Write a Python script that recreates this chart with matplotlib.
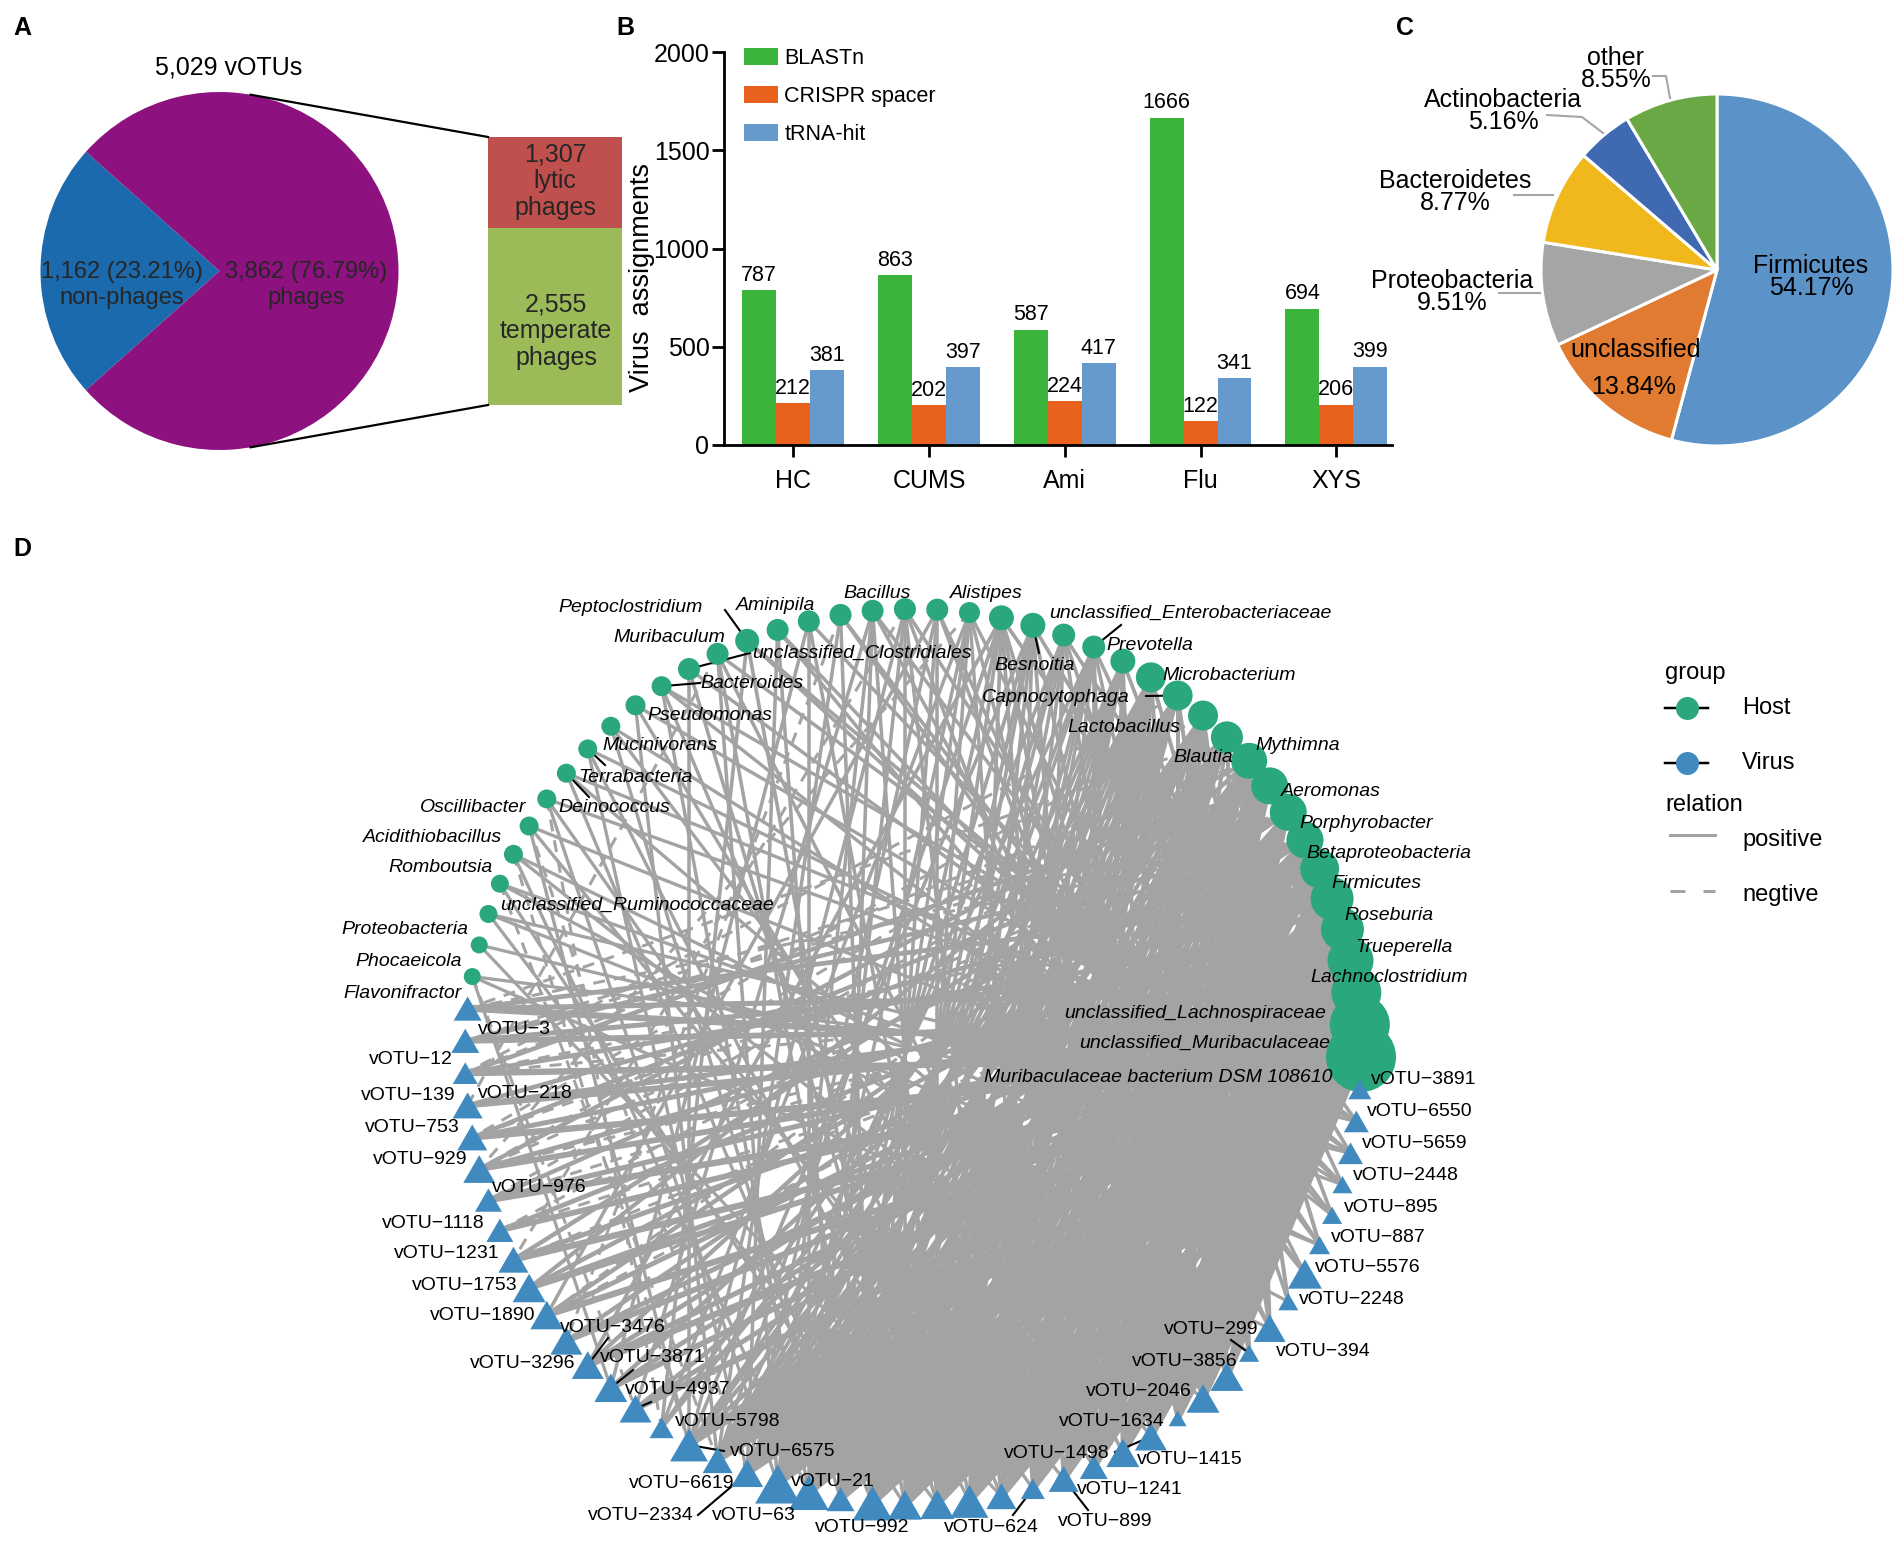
import numpy as np
import matplotlib
matplotlib.use('Agg')
import matplotlib.pyplot as plt
from matplotlib import font_manager
from matplotlib.collections import LineCollection
from matplotlib.path import Path

plt.rcParams['font.family'] = ['Liberation Sans', 'DejaVu Sans']
installed = {f.name for f in font_manager.fontManager.ttflist}
if 'Liberation Sans Narrow' in installed:
    NFAM, NSIZE, TSIZE = ['Liberation Sans Narrow', 'DejaVu Sans'], 18, 21
else:
    NFAM, NSIZE, TSIZE = ['Liberation Sans', 'DejaVu Sans'], 15.5, 18

# ---------------- data ----------------
# A: vOTU classification
votu_total = '5,029'
phage_labels = ['1,162 (23.21%)\nnon-phages', '3,862 (76.79%)\nphages']
phage_pct = [23.21, 76.79]
life_labels = ['1,307\nlytic\nphages', '2,555\ntemperate\nphages']
life_counts = [1307, 2555]

# B: host assignment methods
groups = ['HC', 'CUMS', 'Ami', 'Flu', 'XYS']
blastn = [787, 863, 587, 1666, 694]
crispr = [212, 202, 224, 122, 206]
trna = [381, 397, 417, 341, 399]

# C: host phyla
phyla = ['Firmicutes', 'unclassified', 'Proteobacteria', 'Bacteroidetes',
         'Actinobacteria', 'other']
phyla_pct = [54.17, 13.84, 9.51, 8.77, 5.16, 8.55]

# D: host-virus network (nodes in circular order, '' = unlabeled node)
host_names = ['Muribaculaceae bacterium DSM 108610', 'unclassified_Muribaculaceae',
              'unclassified_Lachnospiraceae', 'Lachnoclostridium', 'Trueperella',
              'Roseburia', 'Firmicutes', 'Betaproteobacteria', 'Porphyrobacter',
              'Aeromonas', 'Blautia', 'Mythimna', 'Lactobacillus', 'Capnocytophaga',
              'Microbacterium', 'Prevotella', 'unclassified_Enterobacteriaceae', '',
              'Besnoitia', '', 'Alistipes', '', '', 'Bacillus', '', '', 'Aminipila',
              'Peptoclostridium', 'Muribaculum', 'unclassified_Clostridiales',
              'Bacteroides', 'Pseudomonas', 'Mucinivorans', 'Terrabacteria',
              'Deinococcus', 'Oscillibacter', 'Acidithiobacillus', 'Romboutsia',
              'unclassified_Ruminococcaceae', 'Proteobacteria', 'Phocaeicola',
              'Flavonifractor']
host_size = [70, 60, 50, 46, 43, 43, 39, 37, 37, 37, 36, 32, 30, 30, 30, 25, 23, 23,
             25, 25, 21, 22, 22, 22, 22, 22, 22, 24, 22, 22, 20, 20, 19, 19, 19, 19,
             19, 19, 18, 18, 17, 17]
virus_names = ['vOTU-3', 'vOTU-12', 'vOTU-139', 'vOTU-218', 'vOTU-753', 'vOTU-929',
               'vOTU-976', 'vOTU-1118', 'vOTU-1231', 'vOTU-1753', 'vOTU-1890',
               'vOTU-3476', 'vOTU-3296', 'vOTU-3871', 'vOTU-4937', 'vOTU-5798',
               'vOTU-6575', 'vOTU-6619', 'vOTU-2334', 'vOTU-63', 'vOTU-21', '',
               'vOTU-992', '', '', '', '', 'vOTU-624', 'vOTU-899', 'vOTU-1241',
               'vOTU-1415', 'vOTU-1498', 'vOTU-1634', 'vOTU-2046', 'vOTU-3856',
               'vOTU-299', 'vOTU-394', 'vOTU-2248', 'vOTU-5576', 'vOTU-887',
               'vOTU-895', 'vOTU-2448', 'vOTU-5659', 'vOTU-6550', 'vOTU-3891']
virus_size = [28, 28, 25, 30, 30, 32, 27, 27, 30, 33, 33, 32, 32, 33, 32, 24, 38, 30,
              32, 45, 40, 28, 40, 34, 34, 38, 30, 24, 30, 28, 33, 32, 18, 33, 33, 20,
              32, 20, 34, 21, 20, 20, 25, 25, 23]
# positive links: host index -> virus indices
host_links = {
    0: [0, 2, 4, 6, 8, 10, 12, 14, 17, 18, 19, 20, 21, 22, 23, 24, 25, 26, 27,
        28, 29, 30, 31, 32, 33, 34],
    1: [1, 3, 5, 7, 9, 11, 13, 16, 17, 18, 19, 20, 21, 22, 23, 24, 25, 26, 27, 28,
        29, 30, 31, 32, 33, 34],
    2: [0, 3, 6, 9, 12, 17, 19, 20, 21, 22, 23, 24, 25, 26, 27, 28, 29, 30, 31, 32, 33,
        34],
    3: [1, 4, 8, 11, 14, 16, 17, 18, 19, 20, 21, 22, 23, 24, 25, 26, 27, 28, 30, 31, 32,
        33],
    4: [2, 5, 10, 13, 17, 18, 19, 20, 21, 22, 23, 24, 25, 26, 27, 29, 30, 31, 32, 33],
    5: [0, 7, 12, 17, 18, 19, 20, 21, 22, 23, 24, 25, 26, 27, 28, 30, 31, 32, 33, 34],
    6: [3, 9, 14, 16, 17, 18, 19, 20, 21, 22, 23, 24, 25, 26, 29, 30, 31, 32, 33],
    7: [1, 6, 11, 17, 18, 19, 20, 21, 22, 23, 24, 25, 26, 27, 28, 29, 32],
    8: [4, 10, 17, 18, 19, 20, 21, 22, 23, 24, 25, 26, 27, 28, 29, 30, 31],
    9: [2, 8, 13, 16, 17, 18, 19, 20, 21, 22, 23, 24, 25, 26, 27, 29, 30],
    10: [5, 12, 17, 18, 19, 20, 21, 22, 23, 24, 25, 26, 27, 28, 31, 33, 36],
    11: [9, 15, 16, 17, 18, 19, 20, 21, 22, 23, 24, 25, 26, 30, 35],
    12: [16, 17, 18, 19, 20, 21, 22, 24, 26, 27, 28, 29, 31, 34, 37],
    13: [15, 17, 18, 19, 20, 21, 22, 23, 24, 25, 32, 36],
    14: [17, 18, 19, 20, 21, 22, 23, 24, 25, 26, 27, 28, 30, 33, 39],
    15: [18, 19, 20, 21, 22, 23, 24, 25, 29, 30, 31, 40],
    16: [17, 19, 20, 22, 23, 24, 26, 29, 30, 35, 41],
    17: [18, 20, 21, 23, 25, 27, 32, 37, 44],
    18: [16, 19, 21, 22, 24, 26, 29, 33, 42],
    19: [12, 17, 20, 22, 25, 28, 31, 34, 43],
    20: [15, 19, 21, 23, 27, 32, 38],
    21: [10, 18, 22, 24, 34, 36],
    22: [16, 20, 23, 26, 33, 39],
    23: [14, 19, 21, 24, 36, 40],
    24: [17, 22, 38, 39],
    25: [13, 20, 25, 41],
    26: [18, 21, 38, 40],
    27: [15, 23, 41, 42],
    28: [19, 22, 30, 43],
    29: [16, 24, 42],
    30: [20, 26, 40, 44],
    31: [17, 29, 43],
    32: [21, 31, 41],
    33: [18, 25, 43],
    34: [22, 35, 44],
    35: [19, 27, 44],
    36: [16, 28, 42],
    37: [20, 33, 39],
    38: [23, 37, 41],
    39: [24, 39, 43],
    40: [26, 42],
    41: [13, 36, 44],
}
# negative links (host, virus)
neg_links = [(7, 0), (8, 1), (9, 1), (10, 2), (11, 0), (6, 3), (5, 2), (4, 6), (3, 7),
             (2, 2), (8, 5), (9, 8), (12, 4), (6, 9), (10, 6), (11, 5), (7, 4), (13, 2),
             (9, 10), (8, 7), (5, 10), (4, 8), (3, 5), (41, 14), (37, 16), (36, 18),
             (35, 15), (38, 17), (20, 5), (22, 8), (24, 11), (28, 3)]

# ---------------- layout (pixels of the 1904x1542 canvas) ----------------
W, H = 1904, 1542
PT = 0.72  # points per pixel at dpi 100
NET_C, NET_R = (913, 1057), 448

host_label_pos = {
    'Muribaculaceae bacterium DSM 108610': (1333, 1077, 'right'),
    'unclassified_Muribaculaceae': (1330, 1043, 'right'),
    'unclassified_Lachnospiraceae': (1326, 1013, 'right'),
    'Lachnoclostridium': (1310, 978, 'left'),
    'Trueperella': (1355, 947, 'left'),
    'Roseburia': (1344, 915, 'left'),
    'Firmicutes': (1331, 883, 'left'),
    'Betaproteobacteria': (1306, 853, 'left'),
    'Porphyrobacter': (1299, 823, 'left'),
    'Aeromonas': (1281, 792, 'left'),
    'Mythimna': (1255, 745, 'left'),
    'Blautia': (1233, 757, 'right'),
    'Lactobacillus': (1180, 727, 'right'),
    'Capnocytophaga': (1130, 697, 'right'),
    'Microbacterium': (1162, 676, 'left'),
    'Prevotella': (1106, 645, 'left'),
    'unclassified_Enterobacteriaceae': (1049, 613, 'left'),
    'Besnoitia': (1035, 666, 'center'),
    'Alistipes': (986, 593, 'center'),
    'Bacillus': (877, 593, 'center'),
    'Aminipila': (776, 605, 'center'),
    'Peptoclostridium': (631, 607, 'center'),
    'Muribaculum': (669, 638, 'center'),
    'unclassified_Clostridiales': (752, 653, 'left'),
    'Bacteroides': (700, 684, 'left'),
    'Pseudomonas': (647, 715, 'left'),
    'Mucinivorans': (602, 745, 'left'),
    'Terrabacteria': (578, 777, 'left'),
    'Deinococcus': (558, 807, 'left'),
    'Oscillibacter': (526, 808, 'right'),
    'Acidithiobacillus': (502, 838, 'right'),
    'Romboutsia': (493, 868, 'right'),
    'unclassified_Ruminococcaceae': (500, 905, 'left'),
    'Proteobacteria': (468, 930, 'right'),
    'Phocaeicola': (462, 962, 'right'),
    'Flavonifractor': (462, 993, 'right'),
}
virus_label_pos = {
    'vOTU-3': (478, 1030, 'left'), 'vOTU-12': (453, 1060, 'right'),
    'vOTU-139': (456, 1095, 'right'), 'vOTU-218': (478, 1093, 'left'),
    'vOTU-753': (460, 1127, 'right'), 'vOTU-929': (467, 1160, 'right'),
    'vOTU-976': (492, 1188, 'left'), 'vOTU-1118': (485, 1223, 'right'),
    'vOTU-1231': (500, 1253, 'right'), 'vOTU-1753': (518, 1285, 'right'),
    'vOTU-1890': (535, 1315, 'right'), 'vOTU-3476': (560, 1328, 'left'),
    'vOTU-3296': (575, 1363, 'right'), 'vOTU-3871': (600, 1358, 'left'),
    'vOTU-4937': (625, 1390, 'left'), 'vOTU-5798': (675, 1422, 'left'),
    'vOTU-6575': (730, 1452, 'left'), 'vOTU-6619': (734, 1483, 'right'),
    'vOTU-2334': (694, 1515, 'right'), 'vOTU-63': (712, 1515, 'left'),
    'vOTU-21': (791, 1482, 'left'), 'vOTU-992': (862, 1528, 'center'),
    'vOTU-624': (991, 1528, 'center'), 'vOTU-899': (1105, 1522, 'center'),
    'vOTU-1241': (1077, 1490, 'left'), 'vOTU-1415': (1137, 1460, 'left'),
    'vOTU-1498': (1110, 1453, 'right'), 'vOTU-1634': (1165, 1422, 'right'),
    'vOTU-2046': (1192, 1392, 'right'), 'vOTU-3856': (1238, 1361, 'right'),
    'vOTU-299': (1258, 1330, 'right'), 'vOTU-394': (1276, 1352, 'left'),
    'vOTU-2248': (1299, 1300, 'left'), 'vOTU-5576': (1315, 1268, 'left'),
    'vOTU-887': (1331, 1237, 'left'), 'vOTU-895': (1344, 1207, 'left'),
    'vOTU-2448': (1353, 1175, 'left'), 'vOTU-5659': (1362, 1143, 'left'),
    'vOTU-6550': (1367, 1111, 'left'), 'vOTU-3891': (1371, 1079, 'left'),
}
# leader segments: node index -> end point
leaders = [(13, 1146, 696), (16, 1121, 625), (18, 1039, 653), (27, 725, 610),
           (29, 750, 653), (30, 700, 683), (33, 605, 765), (34, 589, 797),
           (54, 608, 1338), (55, 633, 1370), (56, 651, 1402), (58, 724, 1451),
           (60, 698, 1515), (69, 1013, 1515), (70, 1088, 1510), (73, 1115, 1452),
           (77, 1231, 1340)]

HOST_C, VIRUS_C, EDGE_C = '#2ba77d', '#408ac0', '#a3a3a3'


def rect(l, t, r, b):
    return [l / W, 1 - b / H, (r - l) / W, (b - t) / H]


fig = plt.figure(figsize=(W / 100, H / 100), dpi=100)
ov = fig.add_axes([0, 0, 1, 1], zorder=10)
ov.set_xlim(0, W)
ov.set_ylim(H, 0)
ov.axis('off')
ov.patch.set_alpha(0)

for letter, (lx, ly) in zip('ABCD', [(22, 28), (625, 28), (1405, 28), (22, 549)]):
    ov.text(lx, ly, letter, fontsize=18, fontweight='bold', ha='center', va='center')

# ---------------- panel A ----------------
ax_a = fig.add_axes(rect(40.5, 92, 398.5, 450))
ax_a.pie(phage_pct, colors=['#1b6aae', '#8d127f'], startangle=180 - phage_pct[0] * 1.8,
         counterclock=True, radius=1)
ax_a.set_xlim(-1, 1)
ax_a.set_ylim(-1, 1)
ov.text(229, 68, f'{votu_total} vOTUs', fontsize=18, ha='center', va='center')
for (tx, ty), lab in zip([(122, 285), (306, 285)], phage_labels):
    ov.text(tx, ty, lab, fontsize=17, ha='center', va='center', color='#262626',
            linespacing=1.25)

ax_s = fig.add_axes(rect(488, 137, 622, 405))
ax_s.bar(0, life_counts[1], width=1, color='#9bbb59')
ax_s.bar(0, life_counts[0], bottom=life_counts[1], width=1, color='#c0504d')
ax_s.set_xlim(-0.5, 0.5)
ax_s.set_ylim(0, sum(life_counts))
ax_s.axis('off')
for (tx, ty), lab in zip([(555, 181), (556, 331)], life_labels):
    ov.text(tx, ty, lab, fontsize=18, ha='center', va='center', color='#262626',
            linespacing=1.15)
ang = np.deg2rad(80)
for sgn, by in [(1, 137), (-1, 405)]:
    ov.plot([219.5 + 179 * np.cos(ang), 488], [271 - sgn * 179 * np.sin(ang), by],
            color='black', lw=1.6)

# ---------------- panel B ----------------
ax_b = fig.add_axes(rect(724, 52, 1392, 445))
x = np.arange(len(groups))
bw = 0.25
series = [('BLASTn', blastn, '#3cb43c'), ('CRISPR spacer', crispr, '#e8621e'),
          ('tRNA-hit', trna, '#6699cc')]
for k, (name, vals, col) in enumerate(series):
    xs = x + (k - 1) * bw
    ax_b.bar(xs, vals, width=bw, color=col, label=name, zorder=2)
    for xv, v in zip(xs, vals):
        ax_b.annotate(str(v), (xv, v), xytext=(0, 3), textcoords='offset points',
                      ha='center', va='bottom', fontsize=NSIZE, family=NFAM,
                      annotation_clip=False)
ax_b.set_xlim(-0.51, 4.41)
ax_b.set_ylim(0, 2000)
ax_b.set_yticks([0, 500, 1000, 1500, 2000])
ax_b.set_xticks(x, groups)
for s in ['top', 'right']:
    ax_b.spines[s].set_visible(False)
for s in ['left', 'bottom']:
    ax_b.spines[s].set_linewidth(2)
ax_b.tick_params(direction='out', length=8.5, width=2, labelsize=TSIZE, pad=2)
ax_b.tick_params(axis='x', pad=9)
for lab in ax_b.get_xticklabels() + ax_b.get_yticklabels():
    lab.set_family(NFAM)
ax_b.legend(loc='upper left', bbox_to_anchor=(744 / W, 1 - 48 / H),
            bbox_transform=fig.transFigure, frameon=False,
            prop={'family': NFAM, 'size': NSIZE}, handlelength=1.58, handleheight=0.84,
            handletextpad=0.3, labelspacing=0.78, borderpad=0, borderaxespad=0)
ov.text(642, 277, 'Virus  assignments', rotation=90, fontsize=TSIZE + 1.5, family=NFAM,
        ha='center', va='center')

# ---------------- panel C ----------------
ax_c = fig.add_axes(rect(1541, 94, 1893, 446))
ax_c.pie(phyla_pct, colors=['#5b93c8', '#e07b31', '#a5a5a5', '#f0b81c', '#3f69b0',
                            '#6aa845'],
         startangle=90, counterclock=False, radius=1,
         wedgeprops=dict(edgecolor='white', linewidth=2.2))
ax_c.set_xlim(-1, 1)
ax_c.set_ylim(-1, 1)
c_text = {'Firmicutes': (1811, 277), 'Proteobacteria': (1452, 292),
          'Bacteroidetes': (1455, 192), 'Actinobacteria': (1503, 111), 'other': (1616, 69)}
for name, pct in zip(phyla, phyla_pct):
    if name == 'unclassified':
        ov.text(1636, 350, name, fontsize=18, ha='center', va='center')
        ov.text(1634, 387, f'{pct:.2f}%', fontsize=18, ha='center', va='center')
    else:
        tx, ty = c_text[name]
        ov.text(tx, ty, f'{name}\n{pct:.2f}%', fontsize=18, ha='center', va='center',
                linespacing=0.9)
for xs_, ys_ in [([1653, 1666, 1670], [76, 76, 98]),
                 ([1547, 1582, 1603], [115, 117, 133]),
                 ([1514, 1553], [195, 195]), ([1499, 1540], [293, 293])]:
    ov.plot(xs_, ys_, color='#a6a6a6', lw=1.5)

# ---------------- panel D ----------------
nh, nv = len(host_names), len(virus_names)
N = nh + nv
theta = np.deg2rad(np.arange(N) * 360.0 / N)
px = NET_C[0] + NET_R * np.cos(theta)
py = NET_C[1] - NET_R * np.sin(theta)

segs, lws = [], []
for h, vs in host_links.items():
    for v in vs:
        segs.append([(px[h], py[h]), (px[nh + v], py[nh + v])])
        lws.append((2.2 + 0.06 * host_size[h]) * PT)
ov.add_collection(LineCollection(segs, linewidths=lws, colors=EDGE_C, zorder=1))
nsegs = [[(px[h], py[h]), (px[nh + v], py[nh + v])] for h, v in neg_links]
ov.add_collection(LineCollection(nsegs, linewidths=3.0 * PT, colors=EDGE_C,
                                 linestyles=(0, (4, 3)), zorder=1))

for i, ex, ey in leaders:
    ov.plot([px[i], ex], [py[i], ey], color='black', lw=1.5, zorder=2)

tri = Path([(0, 0.433), (-0.5, -0.433), (0.5, -0.433), (0, 0.433)], closed=True)
ov.scatter(px[:nh], py[:nh], s=(np.array(host_size) * PT) ** 2, color=HOST_C,
           linewidths=0, zorder=3)
ov.scatter(px[nh:], py[nh:], s=(np.array(virus_size) * PT) ** 2, marker=tri,
           color=VIRUS_C, linewidths=0, zorder=3)

for name in host_names:
    if name:
        tx, ty, ha = host_label_pos[name]
        ov.text(tx, ty, name, fontsize=14, style='italic', ha=ha, va='center', zorder=5)
for name in virus_names:
    if name:
        tx, ty, ha = virus_label_pos[name]
        ov.text(tx, ty, name.replace('-', '\u2212'), fontsize=14, ha=ha, va='center',
                zorder=5)

# legend of D
ov.text(1665, 673, 'group', fontsize=17, ha='left', va='center')
for yy, col, lab in [(708, HOST_C, 'Host'), (763, VIRUS_C, 'Virus')]:
    ov.plot([1665, 1708], [yy, yy], color='black', lw=2.5 * PT)
    ov.scatter([1687], [yy], s=(23 * PT) ** 2, color=col, linewidths=0, zorder=3)
    ov.text(1742, yy, lab, fontsize=17, ha='left', va='center')
ov.text(1665, 805, 'relation', fontsize=17, ha='left', va='center')
ov.plot([1670, 1715], [835, 835], color=EDGE_C, lw=3 * PT)
ov.text(1742, 840, 'positive', fontsize=17, ha='left', va='center')
ov.plot([1670, 1715], [891, 891], color=EDGE_C, lw=3 * PT, ls=(0, (5, 6)))
ov.text(1742, 895, 'negtive', fontsize=17, ha='left', va='center')

fig.savefig('out.png', dpi=100)
